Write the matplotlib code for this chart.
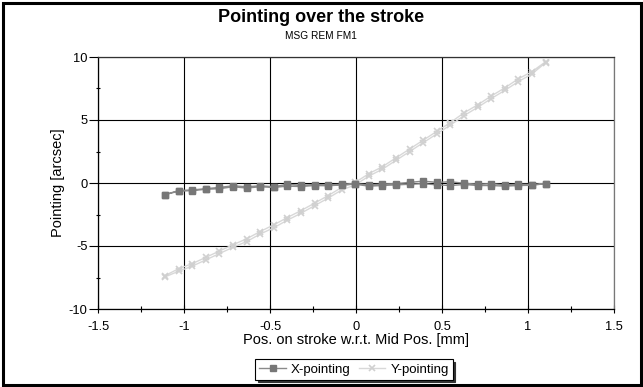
import matplotlib
matplotlib.use("Agg")
import matplotlib.pyplot as plt
from matplotlib.patches import Rectangle
from matplotlib.ticker import MultipleLocator

plt.rcParams['font.family'] = ['Liberation Sans', 'DejaVu Sans']

title = "Pointing over the stroke"
subtitle = "MSG REM FM1"
xlabel = "Pos. on stroke w.r.t. Mid Pos. [mm]"
ylabel = "Pointing [arcsec]"

pos = [-1.110, -1.031, -0.952, -0.873, -0.794, -0.715, -0.636, -0.557, -0.478,
       -0.399, -0.320, -0.241, -0.162, -0.083, -0.004, 0.075, 0.154, 0.233,
       0.312, 0.391, 0.470, 0.549, 0.628, 0.707, 0.786, 0.865, 0.944, 1.023, 1.102]

x_fwd = [-0.92, -0.60, -0.55, -0.45, -0.35, -0.22, -0.30, -0.22, -0.30, -0.10,
         -0.18, -0.12, -0.15, -0.10, -0.05, -0.15, -0.08, -0.05, 0.05, 0.15,
         0.05, 0.10, -0.02, -0.10, -0.05, -0.15, -0.10, -0.12, -0.05]
x_back = [-0.92, -0.65, -0.60, -0.50, -0.45, -0.30, -0.40, -0.30, -0.35, -0.25,
          -0.28, -0.20, -0.22, -0.15, -0.10, -0.25, -0.20, -0.15, -0.10, -0.05,
          -0.15, -0.20, -0.12, -0.20, -0.20, -0.25, -0.20, -0.18, -0.05]

y_fwd = [-7.35, -6.80, -6.40, -5.90, -5.40, -4.90, -4.43, -3.85, -3.32, -2.74,
         -2.19, -1.60, -1.00, -0.35, 0.05, 0.74, 1.30, 2.00, 2.70, 3.40,
         4.10, 4.80, 5.57, 6.20, 6.90, 7.55, 8.27, 8.84, 9.62]
y_back = [-7.45, -7.00, -6.60, -6.10, -5.60, -5.10, -4.65, -4.05, -3.55, -2.95,
          -2.40, -1.80, -1.20, -0.55, -0.15, 0.55, 1.10, 1.80, 2.50, 3.20,
          3.90, 4.60, 5.35, 6.00, 6.70, 7.35, 8.05, 8.65, 9.55]

W, H = 643, 387
fig = plt.figure(figsize=(W / 100, H / 100), dpi=100)
fig.patch.set_facecolor('white')

ax = fig.add_axes([98 / W, 1 - 309 / H, (614 - 98) / W, (309 - 57) / H])

ax.set_xlim(-1.5, 1.5)
ax.set_ylim(-10, 10)
ax.xaxis.set_major_locator(MultipleLocator(0.5))
ax.xaxis.set_minor_locator(MultipleLocator(0.25))
ax.yaxis.set_major_locator(MultipleLocator(5))
ax.yaxis.set_minor_locator(MultipleLocator(2.5))
ax.grid(True, which='major', color='black', linewidth=0.8, zorder=0)
ax.set_axisbelow(True)

xs = pos + pos[::-1]
xp = x_fwd + x_back[::-1]
yp = y_fwd + y_back[::-1]

ax.plot(xs, yp, color='#D8D8D8', linewidth=1.0, marker='x', markersize=4,
        markeredgecolor='#D0D0D0', markeredgewidth=1.2, label='Y-pointing', zorder=3)
ax.plot(xs, xp, color='#8A8A8A', linewidth=1.0, marker='s', markersize=3.8,
        markerfacecolor='#777777', markeredgecolor='#777777', label='X-pointing', zorder=4)

ax.tick_params(axis='y', which='major', direction='out', length=6.5, width=0.8,
               labelsize=9.3, pad=1)
ax.tick_params(axis='y', which='minor', direction='inout', length=3.5, width=0.8)
ax.tick_params(axis='x', which='major', direction='inout', length=6, width=0.8,
               labelsize=9.3, pad=5.5)
ax.tick_params(axis='x', which='minor', direction='inout', length=4, width=0.8)

ax.set_xticks([-1.5, -1, -0.5, 0, 0.5, 1, 1.5])
ax.set_xticklabels(['-1.5', '-1', '-0.5', '0', '0.5', '1', '1.5'])
ax.set_yticks([-10, -5, 0, 5, 10])
ax.set_yticklabels(['-10', '-5', '0', '5', '10'])

for s in ['left', 'bottom']:
    ax.spines[s].set_color('black')
    ax.spines[s].set_linewidth(0.9)
ax.spines['top'].set_color('#333333')
ax.spines['top'].set_linewidth(0.9)
ax.spines['right'].set_color('#777777')
ax.spines['right'].set_linewidth(0.9)

ax.set_xlabel(xlabel, fontsize=10.5, labelpad=0)
ax.set_ylabel(ylabel, fontsize=10.5, labelpad=3)

fig.text(321 / W, 1 - 17 / H, title, ha='center', va='center',
         fontsize=13, fontweight='bold')
fig.text(321 / W, 1 - 36 / H, subtitle, ha='center', va='center', fontsize=7.3)

handles, labels = ax.get_legend_handles_labels()
leg = fig.legend(handles[::-1], labels[::-1], loc='center',
                 bbox_to_anchor=(354 / W, 1 - 369.5 / H), ncol=2, fontsize=9.5,
                 frameon=True, fancybox=False, edgecolor='black', framealpha=1,
                 shadow={'color': '#333333', 'alpha': 1},
                 handlelength=2.0, handletextpad=0.4, columnspacing=0.6,
                 borderpad=0.3)
leg.get_frame().set_linewidth(0.8)

fig.patches.append(Rectangle((2.5 / W, 2.5 / H), (W - 5) / W, (H - 5) / H,
                             transform=fig.transFigure, fill=False,
                             edgecolor='black', linewidth=2.2))

fig.savefig('out.png', dpi=100)
